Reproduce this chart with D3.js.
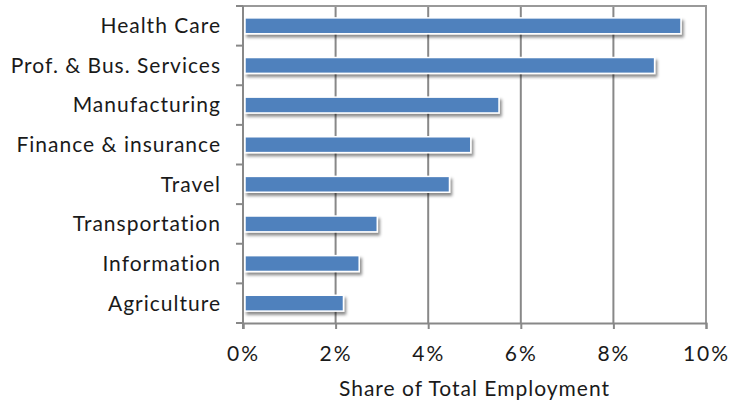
<!DOCTYPE html>
<html>
<head>
<meta charset="utf-8">
<script src="https://cdn.jsdelivr.net/npm/d3@7"></script>
<style>
  body { margin: 0; background: #fff; }
  svg { display: block; }
</style>
</head>
<body>
<svg id="chart"></svg>
<script>
// values (share of total employment, %)
const categories = ["Health Care", "Prof. & Bus. Services", "Manufacturing", "Finance & insurance",
                    "Travel", "Transportation", "Information", "Agriculture"];
const shares = [9.46, 8.89, 5.53, 4.92, 4.46, 2.90, 2.51, 2.17];
const xTicks = [0, 2, 4, 6, 8, 10];
const xTitle = "Share of Total Employment";

const data = categories.map((c, i) => ({ name: c, value: shares[i] }));

const W = 732, H = 404;
const margin = { top: 6, right: 26, bottom: 81, left: 243 };
const width = W - margin.left - margin.right;
const height = H - margin.top - margin.bottom;
const font = "Lato, 'Open Sans', sans-serif";
const fontSize = 21;

const svg = d3.select("#chart").attr("width", W).attr("height", H);

const defs = svg.append("defs");
const f = defs.append("filter").attr("id", "shadow")
  .attr("x", "-10%").attr("y", "-50%").attr("width", "130%").attr("height", "250%");
f.append("feDropShadow").attr("dx", 2).attr("dy", 3).attr("stdDeviation", 1.6)
  .attr("flood-color", "#000").attr("flood-opacity", 0.45);

const chart = svg.append("g").attr("transform", `translate(${margin.left},${margin.top})`);

const x = d3.scaleLinear().domain([0, 10]).range([0, width]);
const y = d3.scaleBand().domain(categories).range([0, height]).padding(0.6).paddingOuter(0.3);

// gridlines
chart.selectAll(".grid").data(xTicks.slice(1, -1)).join("line")
  .attr("x1", d => x(d)).attr("x2", d => x(d))
  .attr("y1", 0).attr("y2", height)
  .attr("stroke", "#888").attr("stroke-width", 2);

// plot border (top/right)
chart.append("path")
  .attr("d", `M0,0H${width}V${height}`)
  .attr("fill", "none").attr("stroke", "#999").attr("stroke-width", 2);

// bars
chart.selectAll(".bar").data(data).join("rect")
  .attr("class", "bar")
  .attr("x", 2)
  .attr("y", d => y(d.name))
  .attr("width", d => x(d.value) - 2)
  .attr("height", y.bandwidth())
  .attr("fill", "#4f81bd")
  .attr("stroke", "#fff").attr("stroke-width", 1.5)
  .attr("filter", "url(#shadow)");

// x axis
const xAxis = chart.append("g").attr("transform", `translate(0,${height})`)
  .call(d3.axisBottom(x).tickValues(xTicks).tickFormat(d => d + "%").tickSize(6).tickPadding(17));
xAxis.select(".domain").attr("stroke", "#888").attr("stroke-width", 2);
xAxis.selectAll(".tick line").attr("stroke", "#888").attr("stroke-width", 2);
xAxis.selectAll("text").attr("font-family", font).attr("font-size", fontSize)
  .attr("letter-spacing", 2).attr("fill", "#1a1a1a");

// y axis: ticks at category boundaries
const step = y.step();
const yStart = y(categories[0]) - y.paddingInner() * step / 2;
chart.append("line").attr("x1", 0).attr("x2", 0).attr("y1", 0).attr("y2", height + 6)
  .attr("stroke", "#888").attr("stroke-width", 2);
chart.selectAll(".ytick").data(d3.range(categories.length + 1)).join("line")
  .attr("x1", -7).attr("x2", 0)
  .attr("y1", i => yStart + i * step).attr("y2", i => yStart + i * step)
  .attr("stroke", "#888").attr("stroke-width", 2);

chart.selectAll(".ylab").data(categories).join("text")
  .attr("x", -22)
  .attr("y", d => y(d) + y.bandwidth() / 2)
  .attr("dy", "0.35em")
  .attr("text-anchor", "end")
  .attr("font-family", font).attr("font-size", fontSize).attr("letter-spacing", 1)
  .attr("fill", "#1a1a1a")
  .text(d => d);

chart.append("text")
  .attr("x", width / 2).attr("y", height + 73)
  .attr("text-anchor", "middle")
  .attr("font-family", font).attr("font-size", fontSize).attr("letter-spacing", 1)
  .attr("fill", "#1a1a1a")
  .text(xTitle);
</script>
</body>
</html>
